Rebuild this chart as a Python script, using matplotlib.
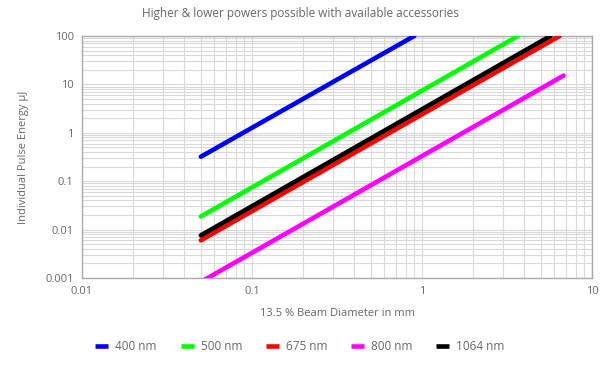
import numpy as np
import matplotlib.pyplot as plt
from matplotlib.ticker import LogLocator, FixedLocator, FixedFormatter, NullFormatter

plt.rcParams['font.family'] = ['Open Sans', 'DejaVu Sans']

# Data (straight lines on log-log: start / end points)
labels = ['400 nm', '500 nm', '675 nm', '800 nm', '1064 nm']
colors = ['#0000ff', '#00ff00', '#ff0000', '#ff00ff', '#000000']
diam_400 = [0.05, 0.9]
energy_400 = [0.32, 100]
diam_500 = [0.05, 3.67]
energy_500 = [0.0186, 100]
diam_675 = [0.05, 6.45]
energy_675 = [0.006, 100]
diam_800 = [0.05, 6.8]
energy_800 = [0.00083, 15.2]
diam_1064 = [0.05, 5.7]
energy_1064 = [0.0076, 100]

xticks = [0.01, 0.1, 1, 10]
xticklabels = ['0.01', '0.1', '1', '10']
yticks = [0.001, 0.01, 0.1, 1, 10, 100]
yticklabels = ['0.001', '0.01', '0.1', '1', '10', '100']

fig = plt.figure(figsize=(6, 3.65), dpi=100)
ax = fig.add_axes([0.1367, 0.2384, 0.85, 0.663])

series = [(diam_400, energy_400), (diam_500, energy_500), (diam_675, energy_675),
          (diam_800, energy_800), (diam_1064, energy_1064)]
zorders = [3, 3, 3, 3, 4]
for (d, e), lab, c, z in zip(series, labels, colors, zorders):
    ax.plot(d, e, color=c, lw=3.3, solid_capstyle='round', label=lab, zorder=z)

ax.set_xscale('log')
ax.set_yscale('log')
ax.set_xlim(0.01, 10)
ax.set_ylim(0.001, 100)

ax.xaxis.set_major_locator(FixedLocator(xticks))
ax.xaxis.set_major_formatter(FixedFormatter(xticklabels))
ax.yaxis.set_major_locator(FixedLocator(yticks))
ax.yaxis.set_major_formatter(FixedFormatter(yticklabels))
ax.xaxis.set_minor_locator(LogLocator(base=10, subs=np.arange(2, 10)))
ax.yaxis.set_minor_locator(LogLocator(base=10, subs=np.arange(2, 10)))
ax.xaxis.set_minor_formatter(NullFormatter())
ax.yaxis.set_minor_formatter(NullFormatter())

ax.grid(True, which='both', color='#d9d9d9', lw=0.8)
ax.set_axisbelow(True)
ax.tick_params(which='both', length=0, labelsize=8, labelcolor='#666666', pad=6)
for s in ax.spines.values():
    s.set_color('#aaaaaa')
    s.set_linewidth(1)

ax.set_xlabel('13.5 % Beam Diameter in mm', fontsize=8, color='#666666', labelpad=8)
ax.set_ylabel('Individual Pulse Energy µJ', fontsize=8, color='#666666', labelpad=12)
fig.text(0.5, 0.962, 'Higher & lower powers possible with available accessories',
         ha='center', va='center', fontsize=8.5, color='#666666')

leg = fig.legend(loc='center', bbox_to_anchor=(0.5, 0.05), ncol=5, frameon=False,
                 fontsize=8.5, handlelength=1.1, handletextpad=0.6, columnspacing=2.0)
for t in leg.get_texts():
    t.set_color('#666666')
for h in leg.get_lines():
    h.set_solid_capstyle('butt')

fig.savefig('out.png', dpi=100)
